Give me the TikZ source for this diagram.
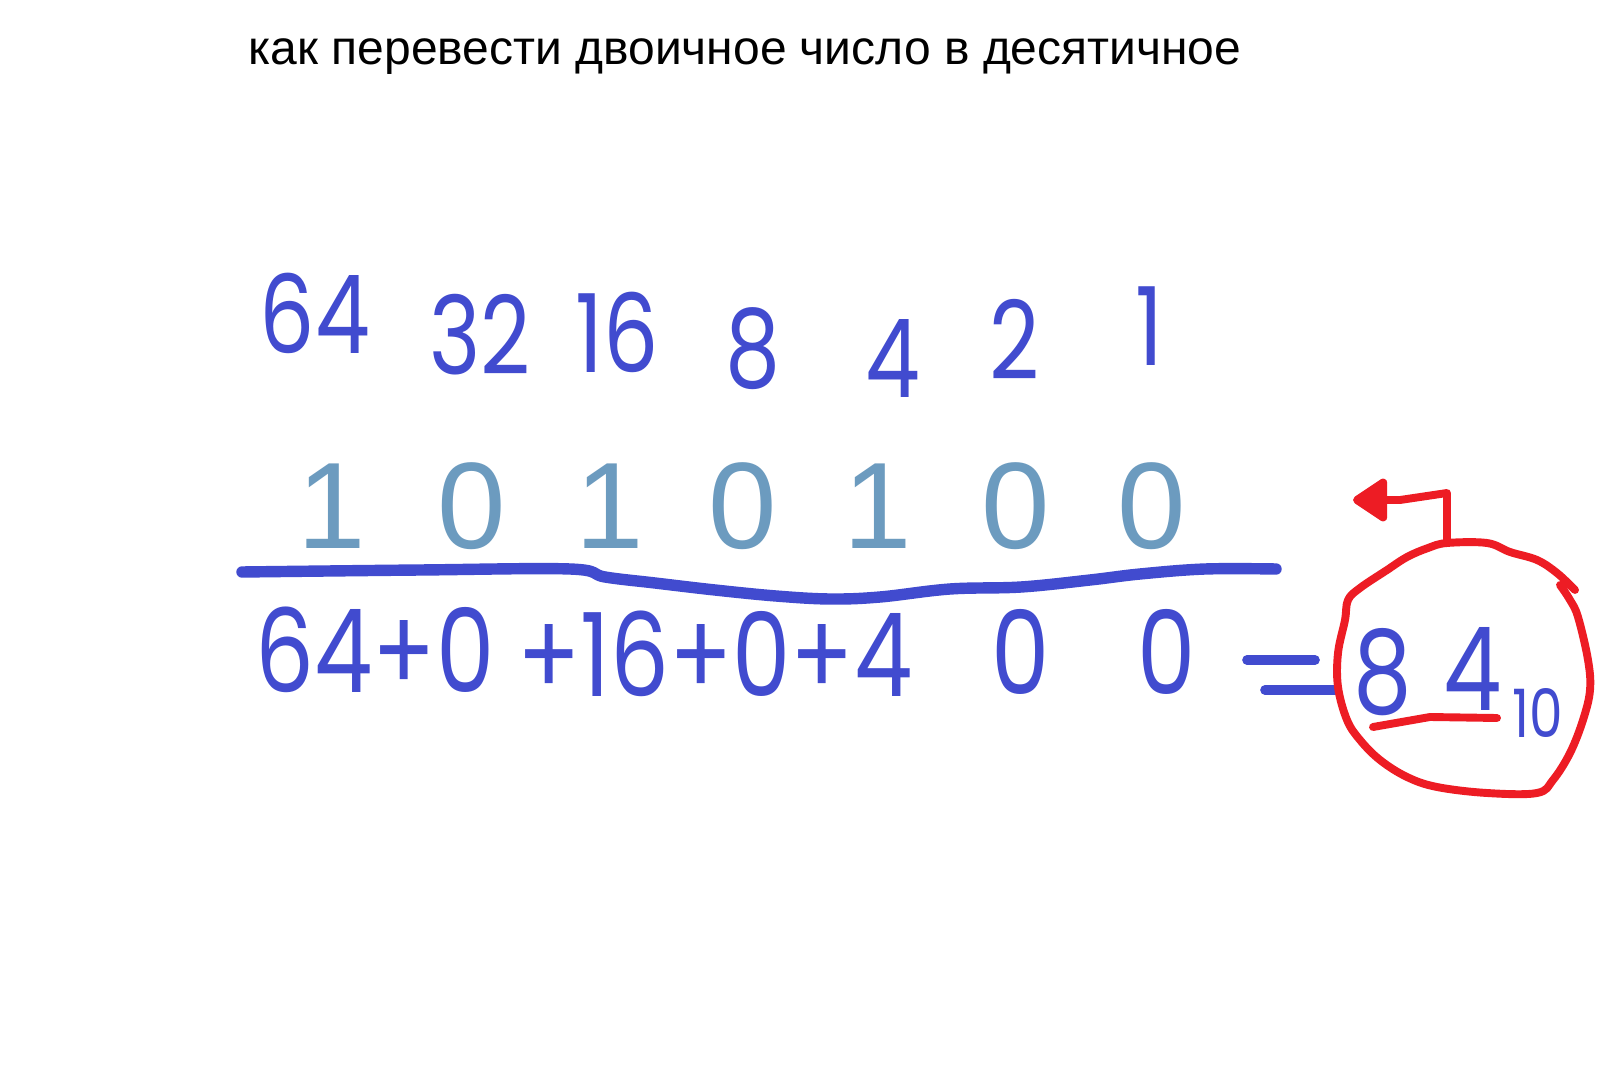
\documentclass[tikz,border=0pt]{standalone}
\usepackage{fontspec}
\setmainfont{Liberation Sans}
\newfontfamily\manuscrit[FakeStretch=0.8]{Poppins}
\usetikzlibrary{arrows.meta}
\definecolor{bleumain}{RGB}{65,75,207}
\definecolor{rougemain}{RGB}{237,28,36}
\definecolor{bleubit}{RGB}{108,155,191}

\begin{document}
\begin{tikzpicture}[x=0.02cm,y=-0.02cm,
    titre/.style={font=\fontsize{27.3}{32}\selectfont,anchor=base,inner sep=0pt},
    bit/.style={text=bleubit,font=\fontsize{70}{80}\selectfont,anchor=base,inner sep=0pt},
    poids/.style={text=bleumain,font=\manuscrit\fontsize{62}{70}\selectfont,anchor=base,inner sep=0pt},
    somme/.style={poids,font=\manuscrit\fontsize{66}{70}\selectfont},
    trait/.style={line width=5.5pt,line cap=round,line join=round}]

\useasboundingbox[fill=white] (0,0) rectangle (1601,1070);

\node[titre] (t) at (745,65) {как перевести двоичное число в десятичное};

% poids des bits
\node[poids] (w64) at (315,354) {64};
\node[poids] (w32) at (480,375) {32};
\node[poids] (w16) at (617,373) {16};
\node[poids] (w8) at (753,388) {8};
\node[poids] (w4) at (893,398) {4};
\node[poids] (w2) at (1015,380) {2};
\node[poids] (w1) at (1149,366) {1};

% le nombre binaire
\node[bit] (b1) at (332,548) {1};
\node[bit] (b2) at (472,548) {0};
\node[bit] (b3) at (610,548) {1};
\node[bit] (b4) at (743,548) {0};
\node[bit] (b5) at (878,548) {1};
\node[bit] (b6) at (1016,548) {0};
\node[bit] (b7) at (1152,548) {0};

\draw[trait,bleumain,line width=6.5pt] plot[smooth,tension=0.6] coordinates {(242,572) (420,570) (570,569) (605,577) (655,583) (715,590) (776,596) (830,599) (880,597) (950,589) (1021,587) (1090,580) (1140,574) (1205,569) (1276,569)};

% la somme
\node[somme] (s1) at (375,692) {64+0};
\node[somme] (s2) at (715,696) {+16+0+4};
\node[somme] (s3) at (1021,694) {0};
\node[somme] (s4) at (1167,694) {0};
\draw[trait,bleumain] (1247,660) -- (1315,660);
\draw[trait,bleumain] (1265,690) -- (1335,690);

\node[somme] (r8) at (1383,713) {8};
\node[somme] (r4) at (1473,710) {4};
\node[poids,font=\manuscrit\fontsize{38}{40}\selectfont] (r10) at (1538,737) {10};

% entoure en rouge
\draw[trait,rougemain,line width=4.5pt] (1373,727) -- (1430,717) -- (1497,718);
\draw[trait,rougemain,line width=4.5pt] plot[smooth,tension=0.6] coordinates {(1575,590) (1557,573) (1537,560) (1510,552) (1487,543) (1447,543) (1428,548) (1407,557) (1387,570) (1360,588) (1348,600) (1345,620) (1338,653) (1338,687) (1347,720) (1360,740) (1380,760) (1407,777) (1437,787) (1487,793) (1537,793) (1553,780) (1570,753) (1583,720) (1590,690) (1588,660) (1578,617) (1570,600) (1560,585)};
\coordinate (fl) at (1353,500);
\draw[trait,rougemain,line width=4.5pt,-{Triangle[length=0.75cm,width=0.95cm,round]}] (1447,540) -- (1447,493) -- (1400,500) -- (fl);

\end{tikzpicture}
\end{document}
